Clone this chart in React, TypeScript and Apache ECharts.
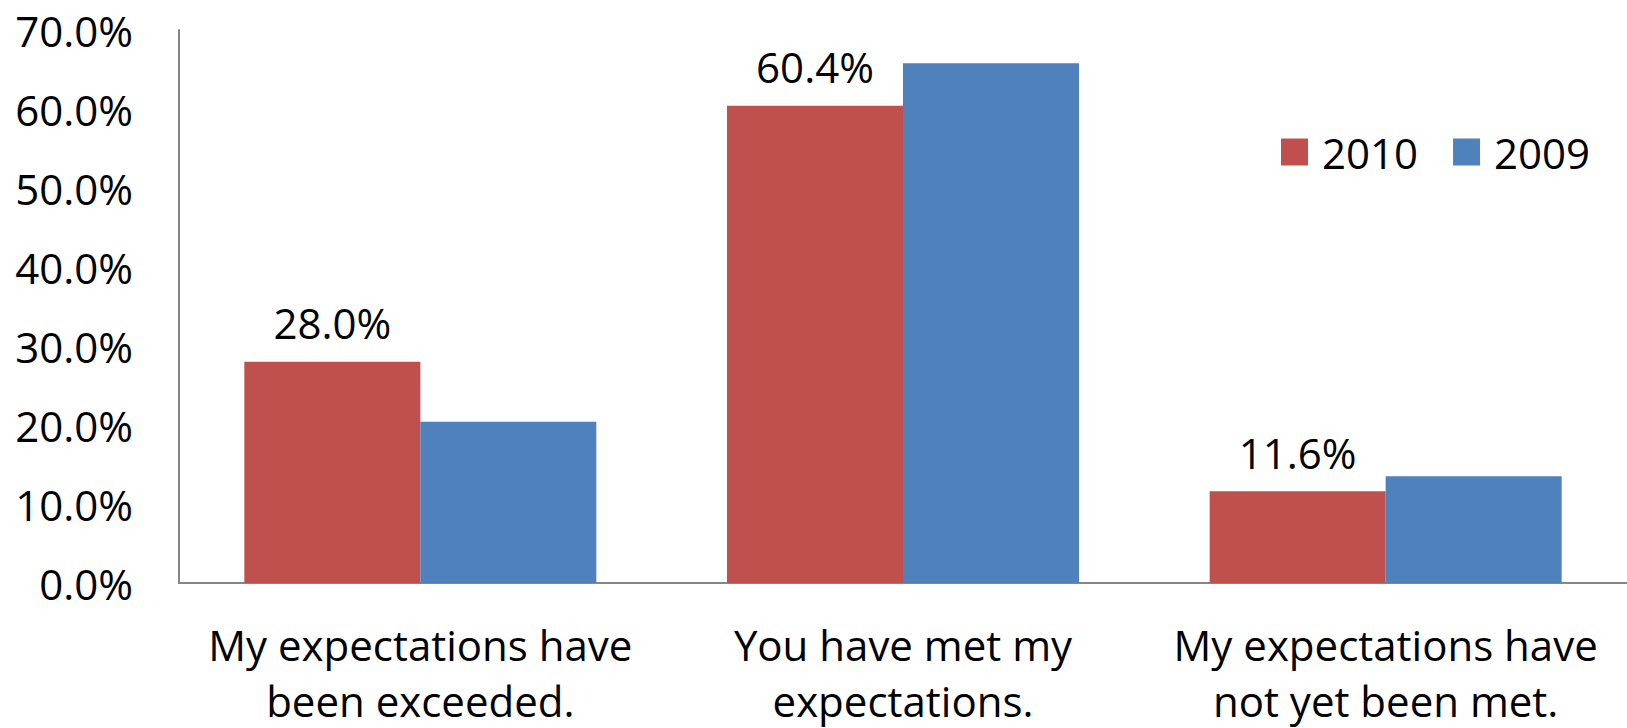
import React, { useEffect, useRef } from "react";
import * as echarts from "echarts";

const categories = [
  "My expectations have\nbeen exceeded.",
  "You have met my\nexpectations.",
  "My expectations have\nnot yet been met.",
];
const values2010 = [28.0, 60.4, 11.6];
const values2009 = [20.4, 65.8, 13.5];
const seriesNames = ["2010", "2009"];

const FONT = "'Open Sans', sans-serif";

export default function App() {
  const ref = useRef<HTMLDivElement>(null);
  useEffect(() => {
    if (!ref.current) return;
    const chart = echarts.init(ref.current, null, { renderer: "svg" });
    chart.setOption({
      animation: false,
      backgroundColor: "#ffffff",
      textStyle: { fontFamily: FONT },
      legend: {
        left: 1276,
        top: 126,
        itemWidth: 27,
        itemHeight: 27,
        itemGap: 35,
        icon: "rect",
        data: seriesNames,
        textStyle: { fontSize: 42, color: "#000", fontFamily: FONT, padding: [0, 0, 0, 9] },
      },
      grid: { left: 179, width: 1454, top: 30, height: 556, containLabel: false },
      xAxis: {
        type: "category",
        data: categories,
        axisLine: { lineStyle: { color: "#868686", width: 2 } },
        axisTick: { show: false },
        axisLabel: {
          fontSize: 42,
          color: "#000",
          fontFamily: FONT,
          lineHeight: 56,
          margin: 33,
          interval: 0,
        },
      },
      yAxis: {
        type: "value",
        min: 0,
        max: 70,
        interval: 10,
        axisLine: { show: true, lineStyle: { color: "#868686", width: 2 } },
        axisTick: { show: false },
        splitLine: { show: false },
        axisLabel: {
          fontSize: 42,
          color: "#000",
          fontFamily: FONT,
          margin: 46,
          formatter: (v: number) => v.toFixed(1) + "%",
        },
      },
      series: [
        {
          name: seriesNames[0],
          type: "bar",
          data: values2010,
          barWidth: 176,
          barGap: "0%",
          itemStyle: { color: "#C0504D" },
          label: {
            show: true,
            position: "top",
            distance: 18,
            fontSize: 42,
            color: "#000",
            fontFamily: FONT,
            formatter: (p: any) => Number(p.value).toFixed(1) + "%",
          },
        },
        {
          name: seriesNames[1],
          type: "bar",
          data: values2009,
          barWidth: 176,
          barGap: "0%",
          itemStyle: { color: "#4F81BD" },
        },
      ],
    });
    return () => chart.dispose();
  }, []);
  return (
    <div
      ref={ref}
      style={{ position: "fixed", left: 0, top: 0, width: 1627, height: 728 }}
    />
  );
}
